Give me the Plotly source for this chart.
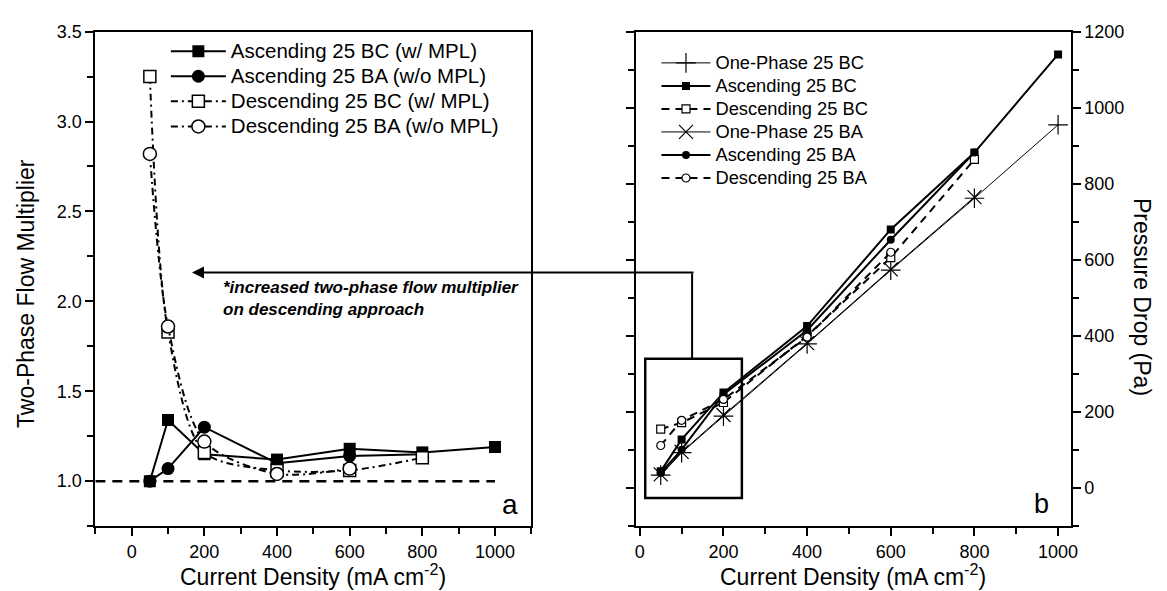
import plotly.graph_objects as go

W, H = 1167, 591
FONT = "Liberation Sans, Arial, sans-serif"

# ---------------- data: panel a (two-phase flow multiplier) ----------------
x_asc_bc_a = [50, 100, 200, 400, 600, 800, 1000]
asc_bc_mult = [1.00, 1.34, 1.15, 1.12, 1.18, 1.16, 1.19]
x_asc_ba_a = [50, 100, 200, 400, 600, 800]
asc_ba_mult = [1.00, 1.07, 1.30, 1.10, 1.14, 1.15]
x_desc_bc_a = [50, 100, 200, 400, 600, 800]
desc_bc_mult = [3.25, 1.83, 1.16, 1.06, 1.06, 1.13]
x_desc_ba_a = [50, 100, 200, 400, 600]
desc_ba_mult = [2.82, 1.86, 1.22, 1.04, 1.07]
ref_mult = 1.0
ref_x = [-100, 1000]

# ---------------- data: panel b (pressure drop, Pa) ----------------
x_full = [50, 100, 200, 400, 600, 800, 1000]
x_to800 = [50, 100, 200, 400, 600, 800]
x_to600 = [50, 100, 200, 400, 600]
one_bc_dp = [34, 93, 189, 379, 573, 762, 955]
asc_bc_dp = [44, 128, 251, 426, 680, 882, 1140]
desc_bc_dp = [155, 172, 225, 400, 606, 864]
one_ba_dp = [36, 95, 192, 381, 575, 765]
asc_ba_dp = [40, 101, 246, 415, 653, 882]
desc_ba_dp = [112, 178, 233, 397, 620]

# zoom box in panel b (data coords) and arrow target in panel a
box_x = [13, 244]
box_y = [-26, 340]
conn_x = 125
conn_top_y = 564
arrow_tip = (166, 2.16)

fig = go.Figure()

def lname(t, px):
    return '<span style="font-size:%spx">%s</span>' % (px, t)

LA = 20.5  # legend a text size
LB = 18.3  # legend b text size

# ---- panel a ----
fig.add_trace(go.Scatter(x=x_asc_bc_a, y=asc_bc_mult, mode="lines+markers",
    name=lname("Ascending 25 BC (w/ MPL)", LA), legend="legend",
    line=dict(color="black", width=2), marker=dict(symbol="square", size=12, color="black"),
    xaxis="x", yaxis="y"))
fig.add_trace(go.Scatter(x=x_asc_ba_a, y=asc_ba_mult, mode="lines+markers",
    name=lname("Ascending 25 BA (w/o MPL)", LA), legend="legend",
    line=dict(color="black", width=2), marker=dict(symbol="circle", size=13, color="black"),
    xaxis="x", yaxis="y"))
fig.add_trace(go.Scatter(x=x_desc_bc_a, y=desc_bc_mult, mode="lines+markers",
    name=lname("Descending 25 BC (w/ MPL)", LA), legend="legend",
    line=dict(color="black", width=2, dash="7px,4px,2px,4px", shape="spline", smoothing=0.8),
    marker=dict(symbol="square", size=12, color="white", line=dict(color="black", width=1.5)),
    xaxis="x", yaxis="y"))
fig.add_trace(go.Scatter(x=x_desc_ba_a, y=desc_ba_mult, mode="lines+markers",
    name=lname("Descending 25 BA (w/o MPL)", LA), legend="legend",
    line=dict(color="black", width=2, dash="7px,4px,2px,4px", shape="spline", smoothing=0.8),
    marker=dict(symbol="circle", size=13, color="white", line=dict(color="black", width=1.5)),
    xaxis="x", yaxis="y"))

# ---- panel b ----
fig.add_trace(go.Scatter(x=x_full, y=one_bc_dp, mode="lines+markers",
    name=lname("One-Phase 25 BC", LB), legend="legend2",
    line=dict(color="black", width=1), marker=dict(symbol="cross-thin", size=14, line=dict(color="black", width=1.2)),
    xaxis="x2", yaxis="y2"))
fig.add_trace(go.Scatter(x=x_full, y=asc_bc_dp, mode="lines+markers",
    name=lname("Ascending 25 BC", LB), legend="legend2",
    line=dict(color="black", width=2), marker=dict(symbol="square", size=8, color="black"),
    xaxis="x2", yaxis="y2"))
fig.add_trace(go.Scatter(x=x_to800, y=desc_bc_dp, mode="lines+markers",
    name=lname("Descending 25 BC", LB), legend="legend2",
    line=dict(color="black", width=2, dash="8px,6px"),
    marker=dict(symbol="square", size=8, color="white", line=dict(color="black", width=1.2)),
    xaxis="x2", yaxis="y2"))
fig.add_trace(go.Scatter(x=x_to800, y=one_ba_dp, mode="lines+markers",
    name=lname("One-Phase 25 BA", LB), legend="legend2",
    line=dict(color="black", width=1), marker=dict(symbol="x-thin", size=14, line=dict(color="black", width=1.2)),
    xaxis="x2", yaxis="y2"))
fig.add_trace(go.Scatter(x=x_to800, y=asc_ba_dp, mode="lines+markers",
    name=lname("Ascending 25 BA", LB), legend="legend2",
    line=dict(color="black", width=2), marker=dict(symbol="circle", size=8, color="black"),
    xaxis="x2", yaxis="y2"))
fig.add_trace(go.Scatter(x=x_to600, y=desc_ba_dp, mode="lines+markers",
    name=lname("Descending 25 BA", LB), legend="legend2",
    line=dict(color="black", width=2, dash="8px,6px"),
    marker=dict(symbol="circle", size=8, color="white", line=dict(color="black", width=1.2)),
    xaxis="x2", yaxis="y2"))

px = lambda v: v / W
py = lambda v: 1 - v / H

ydom = [py(525), py(22)]
tickfont = dict(family=FONT, size=18, color="black")
common = dict(showgrid=False, zeroline=False, showline=True, linecolor="black", linewidth=2,
              ticks="outside", ticklen=8, tickwidth=1.5, tickcolor="black", tickfont=tickfont)

fig.update_layout(
    width=W, height=H, autosize=False,
    margin=dict(l=0, r=0, t=0, b=0),
    paper_bgcolor="white", plot_bgcolor="white",
    font=dict(family=FONT, color="black"),
    xaxis=dict(domain=[px(95), px(534)], range=[-100, 1100], tick0=0, dtick=200,
               minor=dict(dtick=100, ticks="outside", ticklen=6, tickwidth=1.5, tickcolor="black"),
               mirror=True, anchor="y", **common),
    yaxis=dict(domain=ydom, range=[0.75, 3.5], tick0=0, dtick=0.5, tickformat=".1f",
               minor=dict(dtick=0.25, ticks="outside", ticklen=6, tickwidth=1.5, tickcolor="black"),
               mirror=True, anchor="x", **common),
    xaxis2=dict(domain=[px(639), px(1077)], range=[-10, 1030], tick0=0, dtick=200,
                minor=dict(dtick=100, ticks="outside", ticklen=6, tickwidth=1.5, tickcolor="black"),
                mirror=True, anchor="y2", **common),
    yaxis2=dict(domain=ydom, range=[-100, 1200], tick0=0, dtick=200, side="right",
                minor=dict(dtick=100, ticks="outside", ticklen=6, tickwidth=1.5, tickcolor="black"),
                mirror="ticks", anchor="x2", **common),
    legend=dict(x=px(166), y=py(24), xanchor="left", yanchor="top", bgcolor="rgba(0,0,0,0)",
                font=dict(family=FONT, size=17, color="black"), itemwidth=55, tracegroupgap=0),
    legend2=dict(x=px(660), y=py(37), xanchor="left", yanchor="top", bgcolor="rgba(0,0,0,0)",
                 font=dict(family=FONT, size=15.4, color="black"), itemwidth=49, tracegroupgap=0),
    showlegend=True,
)

# reference line at multiplier = 1
fig.add_shape(type="line", xref="x", yref="y", x0=ref_x[0], x1=ref_x[1], y0=ref_mult, y1=ref_mult,
              line=dict(color="black", width=2.5, dash="10px,7px"))
# zoom box and connector in panel b
fig.add_shape(type="rect", xref="x2", yref="y2", x0=box_x[0], x1=box_x[1], y0=box_y[0], y1=box_y[1],
              line=dict(color="black", width=2.5))
fig.add_shape(type="line", xref="x2", yref="y2", x0=conn_x, x1=conn_x, y0=box_y[1], y1=conn_top_y,
              line=dict(color="black", width=2))

annos = []
# arrow from connector to panel a
annos.append(dict(xref="x", yref="y", x=arrow_tip[0], y=arrow_tip[1], ax=503, ay=0,
                  axref="pixel", ayref="pixel", text="", showarrow=True,
                  arrowhead=2, arrowsize=1.2, arrowwidth=2, arrowcolor="black", standoff=0))
annos.append(dict(xref="x", yref="y", x=246, y=2.015, xanchor="left", yanchor="middle", align="left",
                  text="<b><i>*increased two-phase flow multiplier<br>on descending approach</i></b>",
                  showarrow=False, font=dict(family=FONT, size=17, color="black")))
# axis titles
annos.append(dict(xref="paper", yref="paper", x=px(25), y=py(288), xanchor="center", yanchor="middle",
                  text="Two-Phase Flow Multiplier", textangle=-90, showarrow=False,
                  font=dict(family=FONT, size=23, color="black")))
annos.append(dict(xref="paper", yref="paper", x=px(314.5), y=py(575), xanchor="center", yanchor="middle",
                  text="Current Density (mA cm<sup>-2</sup>)", showarrow=False,
                  font=dict(family=FONT, size=23, color="black")))
annos.append(dict(xref="paper", yref="paper", x=px(858), y=py(575), xanchor="center", yanchor="middle",
                  text="Current Density (mA cm<sup>-2</sup>)", showarrow=False,
                  font=dict(family=FONT, size=23, color="black")))
annos.append(dict(xref="paper", yref="paper", x=px(1149), y=py(292), xanchor="center", yanchor="middle",
                  text="Pressure Drop (Pa)", textangle=90, showarrow=False,
                  font=dict(family=FONT, size=23, color="black")))
# panel letters
annos.append(dict(xref="paper", yref="paper", x=px(513), y=py(503), xanchor="center", yanchor="middle",
                  text="a", showarrow=False, font=dict(family=FONT, size=28, color="black")))
annos.append(dict(xref="paper", yref="paper", x=px(1048), y=py(502), xanchor="center", yanchor="middle",
                  text="b", showarrow=False, font=dict(family=FONT, size=27, color="black")))
fig.update_layout(annotations=annos)

fig.write_html("out.html")
